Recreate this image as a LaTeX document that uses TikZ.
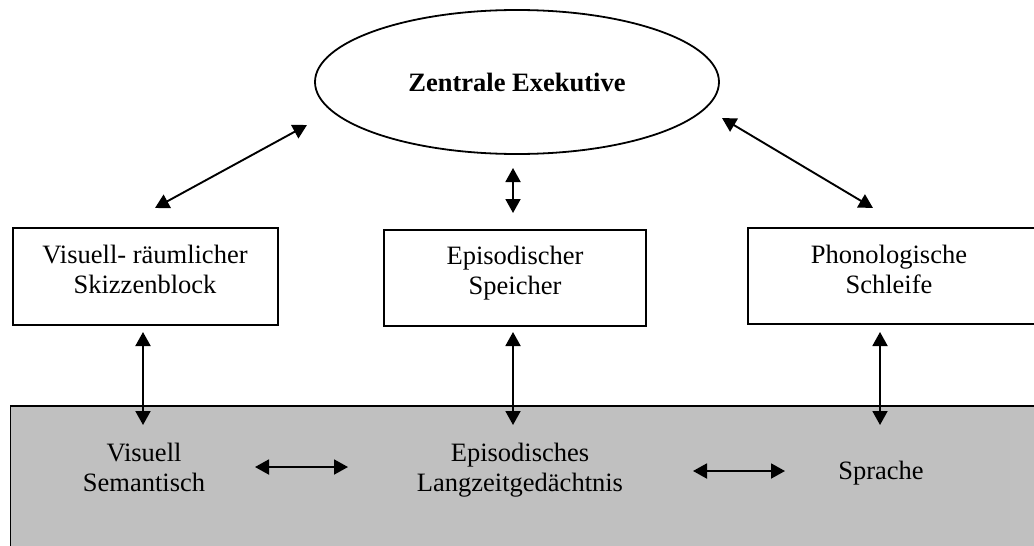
\documentclass[tikz,border=0pt]{standalone}
\usepackage{fontspec}
\setmainfont{Liberation Serif}
\usetikzlibrary{arrows.meta,shapes.geometric}
\definecolor{ltmgray}{RGB}{192,192,192}
\tikzset{
  lbl/.style={font=\fontsize{26.5}{30}\selectfont, align=center, inner sep=0pt, anchor=base},
  compbox/.style={draw=black, line width=1.8pt, fill=white, inner sep=0pt},
  dbl/.style={line width=1.9pt, {Triangle[length=14pt,width=15pt]}-{Triangle[length=14pt,width=15pt]}}
}
\begin{document}
\begin{tikzpicture}[x=1pt,y=-1pt]
\useasboundingbox (0,0) rectangle (1034,546);
\clip (0,0) rectangle (1034,546);
\fill[white] (0,0) rectangle (1034,546);

% long-term memory region (runs past the page edges)
\node[compbox, fill=ltmgray, anchor=north west, minimum width=1040pt, minimum height=160pt] (ltm) at (9.5,405) {};

% central executive
\node[draw=black, line width=1.8pt, ellipse, inner sep=0pt, minimum width=404pt, minimum height=144pt] (ze) at (517,82) {};
\node[lbl, font=\fontsize{26.5}{30}\selectfont\bfseries] (zetxt) at (517,91) {Zentrale Exekutive};

% slave systems (labels anchored at the baseline of their last line)
\node[compbox, minimum width=265pt, minimum height=97pt] (vs) at (145.5,276.5) {};
\node[compbox, minimum width=262pt, minimum height=96pt] (es) at (515,278) {};
\node[compbox, minimum width=300pt, minimum height=96pt] (ps) at (898,276) {};
\node[lbl] (vstxt) at (145,293) {Visuell- räumlicher\\Skizzenblock};
\node[lbl] (estxt) at (515,294) {Episodischer\\Speicher};
\node[lbl] (pstxt) at (889,293) {Phonologische\\Schleife};

% long-term stores
\node[lbl] (vltm) at (144,491) {Visuell\\Semantisch};
\node[lbl] (eltm) at (520,491) {Episodisches\\Langzeitgedächtnis};
\node[lbl] (sltm) at (881,479) {Sprache};

% arrow end points
\coordinate (ze-l) at (307,125);  \coordinate (vs-t) at (155,208);
\coordinate (ze-r) at (722,118);  \coordinate (ps-t) at (873,208);
\coordinate (ze-b) at (513,168);  \coordinate (es-t) at (513,213);
\coordinate (vs-b) at (143,332);  \coordinate (vltm-t) at (143,425);
\coordinate (es-b) at (513,332);  \coordinate (eltm-t) at (513,425);
\coordinate (ps-b) at (880,332);  \coordinate (sltm-t) at (880,425);
\coordinate (vltm-r) at (255,467); \coordinate (eltm-l) at (348,467);
\coordinate (eltm-r) at (693,471); \coordinate (sltm-l) at (785,471);

\draw[dbl] (ze-l) -- (vs-t);
\draw[dbl] (ze-r) -- (ps-t);
\draw[dbl] (ze-b) -- (es-t);
\draw[dbl] (vs-b) -- (vltm-t);
\draw[dbl] (es-b) -- (eltm-t);
\draw[dbl] (ps-b) -- (sltm-t);
\draw[dbl] (vltm-r) -- (eltm-l);
\draw[dbl] (eltm-r) -- (sltm-l);
\end{tikzpicture}
\end{document}
